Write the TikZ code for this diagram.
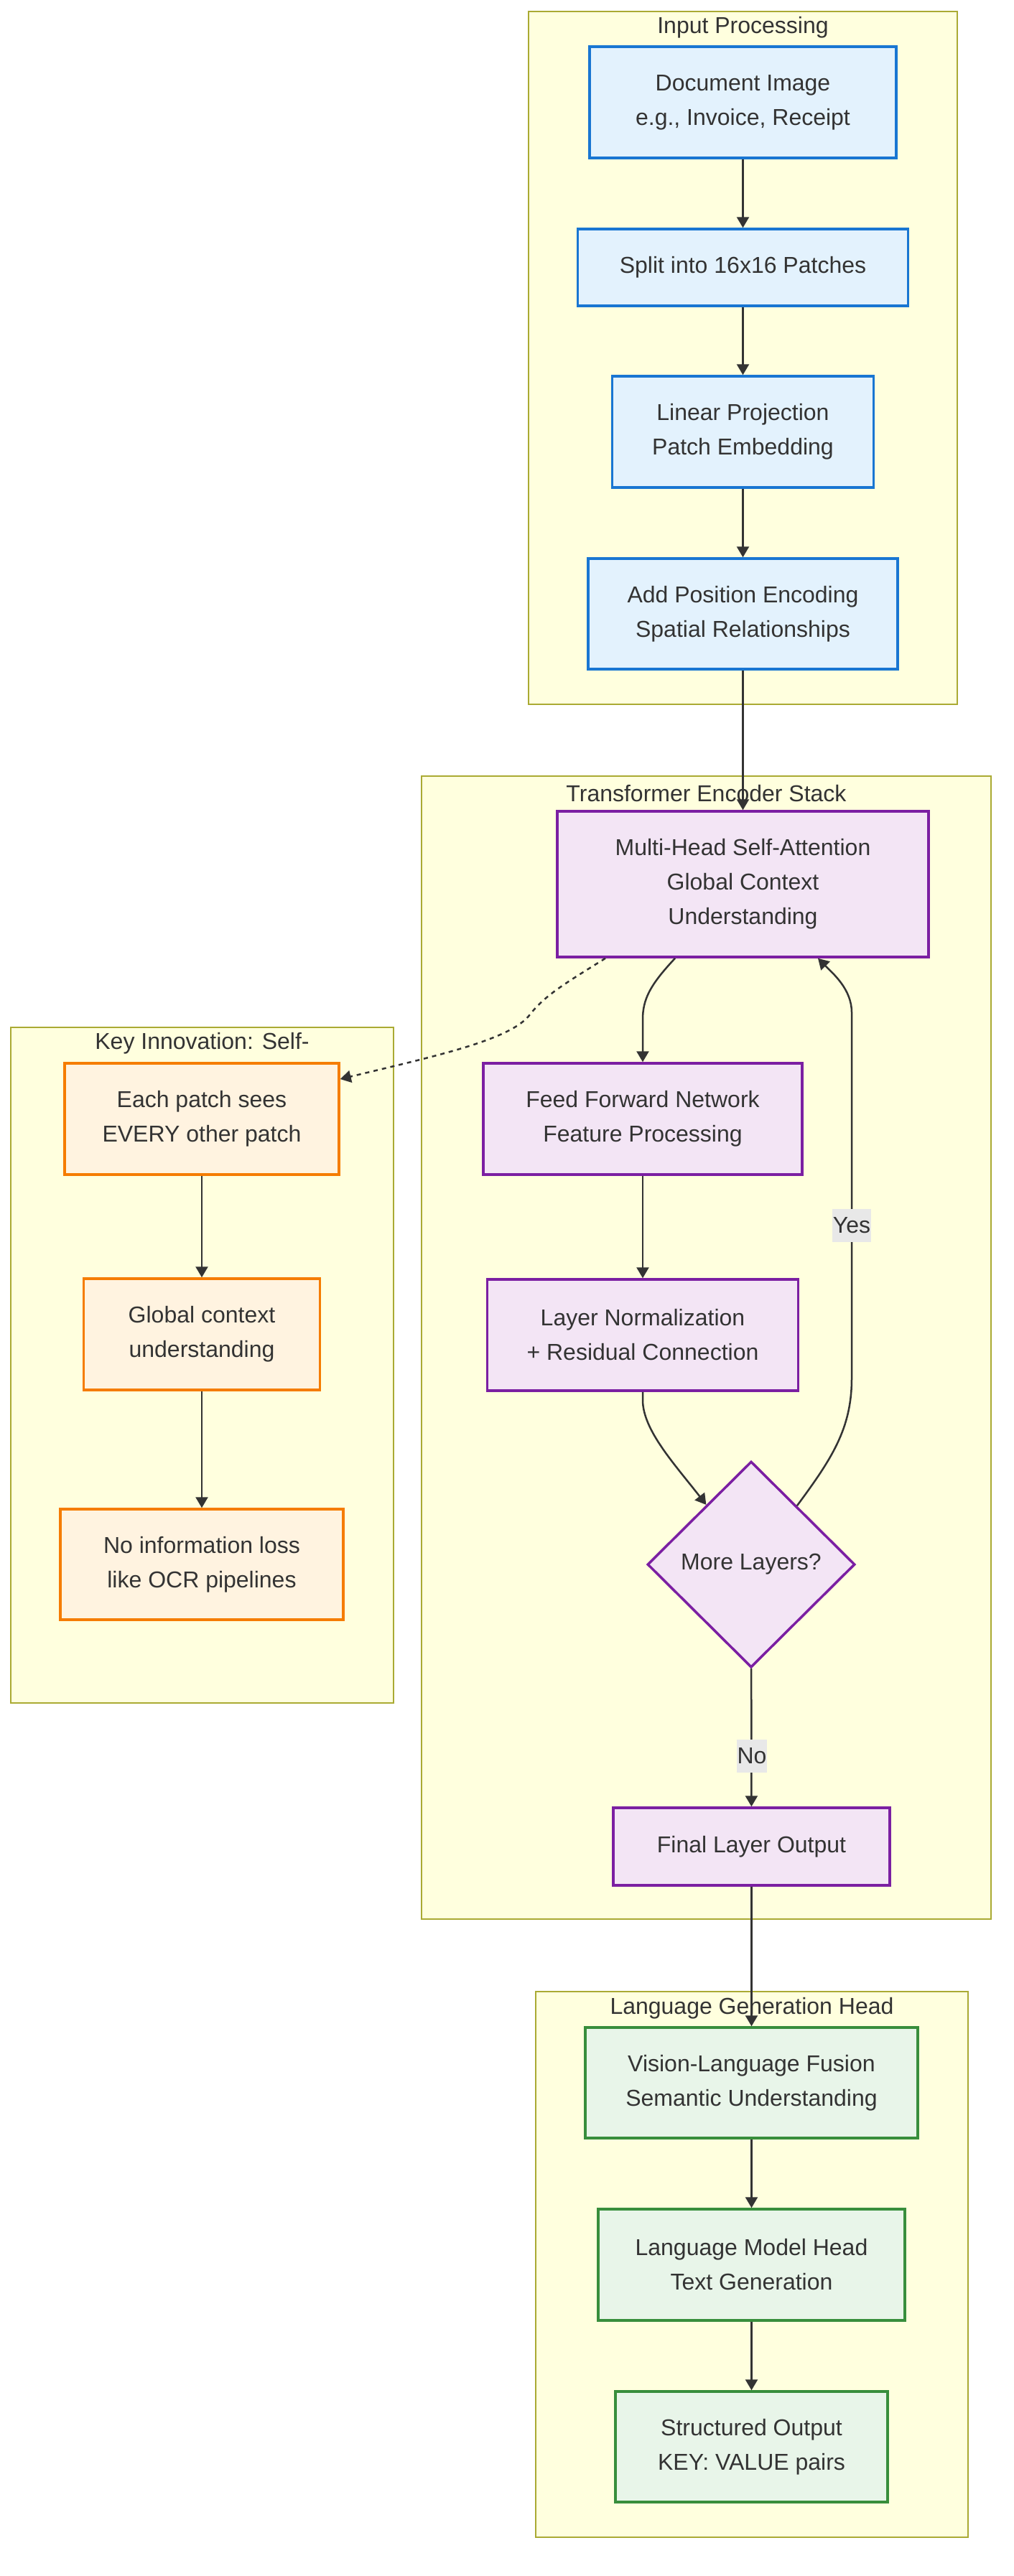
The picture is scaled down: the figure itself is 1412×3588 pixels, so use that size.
\documentclass[tikz,border=0pt]{standalone}
\usepackage{fontspec}
\setmainfont{Liberation Sans}
\usetikzlibrary{arrows.meta,shapes.geometric}
\definecolor{ink}{HTML}{333333}
\definecolor{clfill}{HTML}{FFFFDE}
\definecolor{clline}{HTML}{AAAA33}
\definecolor{inFill}{HTML}{E3F2FD}\definecolor{inLine}{HTML}{1976D2}
\definecolor{encFill}{HTML}{F3E5F5}\definecolor{encLine}{HTML}{7B1FA2}
\definecolor{keyFill}{HTML}{FFF3E0}\definecolor{keyLine}{HTML}{F57C00}
\definecolor{genFill}{HTML}{E8F5E9}\definecolor{genLine}{HTML}{388E3C}
\definecolor{lblFill}{HTML}{E8E8E8}
\begin{document}
\begin{tikzpicture}[x=1pt,y=-1pt,
  every node/.style={text=ink, font=\fontsize{32}{48}\selectfont},
  box/.style={rectangle, line width=3.5pt, align=center, inner sep=0pt},
  inbox/.style={box, draw=inLine, fill=inFill},
  encbox/.style={box, draw=encLine, fill=encFill},
  keybox/.style={box, draw=keyLine, fill=keyFill},
  genbox/.style={box, draw=genLine, fill=genFill},
  cluster/.style={draw=clline, fill=clfill, line width=2pt},
  cltitle/.style={inner sep=0pt},
  arr/.style={draw=ink, line width=2.5pt, -{Triangle[length=15pt,width=17pt]}},
  dotarr/.style={arr, dash pattern=on 6pt off 6pt},
  edgelbl/.style={fill=lblFill, inner xsep=1pt, inner ysep=0pt, minimum height=46pt}
]
\useasboundingbox (0,0) rectangle (1412,3588);

% ---- subgraph frames ----
\draw[cluster] (736,16) rectangle (1333,981);
\node[cltitle] (tin) at (1034.5,38) {Input Processing};
\draw[cluster] (587,1081) rectangle (1380,2673);
\node[cltitle] (tenc) at (983.5,1105) {Transformer Encoder Stack};
\draw[cluster] (15,1431) rectangle (548,2372);
\node[cltitle] (tkey) at (281.5,1453) {Key Innovation: Self-};
\draw[cluster] (746,2774) rectangle (1348,3534);
\node[cltitle] (tgen) at (1047,2797) {Language Generation Head};

% ---- input processing ----
\node[inbox, minimum width=427pt, minimum height=155pt] (doc) at (1034.5,142.5) {Document Image\\e.g., Invoice, Receipt};
\node[inbox, minimum width=460pt, minimum height=107pt] (split) at (1034.5,372.5) {Split into 16x16 Patches};
\node[inbox, minimum width=364pt, minimum height=155pt] (proj) at (1034.5,601.5) {Linear Projection\\Patch Embedding};
\node[inbox, minimum width=431pt, minimum height=154pt] (pos) at (1034.5,855) {Add Position Encoding\\Spatial Relationships};

% ---- encoder stack ----
\node[encbox, minimum width=517pt, minimum height=203pt] (mhsa) at (1034.5,1231.5) {Multi-Head Self-Attention\\Global Context\\Understanding};
\node[encbox, minimum width=444pt, minimum height=155pt] (ffn) at (895,1558.5) {Feed Forward Network\\Feature Processing};
\node[encbox, minimum width=433pt, minimum height=155pt] (norm) at (895,1859.5) {Layer Normalization\\+ Residual Connection};
\node[encbox, shape=diamond, minimum width=289pt, minimum height=287pt] (more) at (1046,2179) {More Layers?};
\node[encbox, minimum width=385pt, minimum height=108pt] (final) at (1046.5,2572) {Final Layer Output};

% ---- key innovation ----
\node[keybox, minimum width=382pt, minimum height=155pt] (each) at (281,1558.5) {Each patch sees\\EVERY other patch};
\node[keybox, minimum width=329pt, minimum height=155pt] (glob) at (281,1858.5) {Global context\\understanding};
\node[keybox, minimum width=394pt, minimum height=154pt] (loss) at (281,2179) {No information loss\\like OCR pipelines};

% ---- generation head ----
\node[genbox, minimum width=463pt, minimum height=154pt] (fuse) at (1046.5,2901) {Vision-Language Fusion\\Semantic Understanding};
\node[genbox, minimum width=427pt, minimum height=155pt] (lmh) at (1046.5,3154.5) {Language Model Head\\Text Generation};
\node[genbox, minimum width=379pt, minimum height=154pt] (out) at (1046.5,3408) {Structured Output\\KEY: VALUE pairs};

% ---- connectors ----
\draw[arr] (doc) -- (split);
\draw[arr] (split) -- (proj);
\draw[arr] (proj) -- (pos);
\draw[arr] (pos) -- (mhsa);
\draw[arr] ([xshift=-94.5pt]mhsa.south) .. controls (905,1372) and (895,1392) .. (895,1420) -- (ffn.north);
\draw[arr] (ffn) -- (norm);
\draw[arr] (norm.south) -- (895,1950) .. controls (895,1992) and (940,2040) .. (more.127);
\draw[arr] (more.52) .. controls (1158,2032) and (1186,1990) .. (1186,1920) -- (1186,1410) .. controls (1186,1378) and (1160,1356) .. ([xshift=104.5pt]mhsa.south);
\draw[arr] (more) -- (final);
\draw[arr] (final) -- (fuse);
\draw[arr] (fuse) -- (lmh);
\draw[arr] (lmh) -- (out);
\draw[arr] (each) -- (glob);
\draw[arr] (glob) -- (loss);
\draw[dotarr] ([xshift=-191.5pt]mhsa.south) .. controls (790,1368) and (760,1385) .. (738,1413) .. controls (712,1448) and (610,1470) .. ([yshift=55.5pt]each.east);

% ---- edge labels ----
\node[edgelbl] (yes) at (1186,1707) {Yes};
\node[edgelbl] (no) at (1047,2446) {No};
\end{tikzpicture}
\end{document}
